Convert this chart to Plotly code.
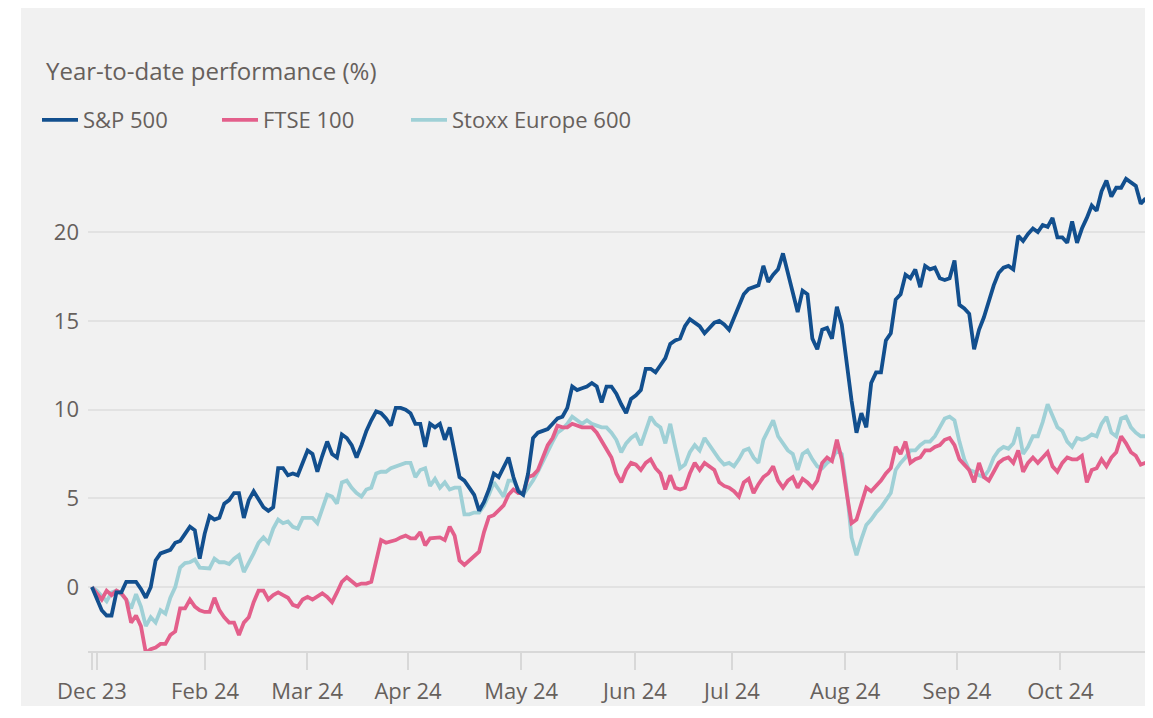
import plotly.graph_objects as go

# trading-day index (0 = end of Dec 2023)
sp500 = [0, -0.7, -1.3, -1.6, -1.6, -0.3, -0.3, 0.3, 0.3, 0.3,
         -0.1, -0.6, 0.0, 1.5, 1.9, 2.0, 2.1, 2.5, 2.6, 3.0,
         3.4, 3.2, 1.6, 3.0, 4.0, 3.8, 3.9, 4.7, 4.9, 5.3,
         5.3, 3.9, 4.9, 5.4, 4.9, 4.5, 4.3, 4.5, 6.7, 6.7,
         6.3, 6.4, 6.3, 7.0, 7.7, 7.5, 6.5, 7.4, 8.2, 7.5,
         7.3, 8.6, 8.4, 8.0, 7.3, 8.0, 8.8, 9.4, 9.9, 9.8,
         9.5, 9.1, 10.1, 10.1, 10.0, 9.8, 9.2, 9.2, 7.9, 9.2,
         9.0, 9.2, 8.3, 9.0, 7.7, 6.2, 6.0, 5.6, 5.2, 4.3,
         4.8, 5.5, 6.4, 6.2, 6.8, 7.3, 6.2, 5.4, 5.2, 6.4,
         8.4, 8.7, 8.8, 8.9, 9.2, 9.5, 9.6, 10.1, 11.3, 11.1,
         11.2, 11.3, 11.5, 11.3, 10.4, 11.3, 11.3, 10.9, 10.3, 9.8,
         10.6, 10.8, 11.1, 12.3, 12.3, 12.1, 12.5, 12.9, 13.7, 13.9,
         14.0, 14.7, 15.1, 14.9, 14.7, 14.3, 14.6, 14.9, 15.0, 14.8,
         14.5, 15.2, 15.8, 16.5, 16.8, 16.9, 17.0, 18.1, 17.2, 17.6,
         17.9, 18.8, 17.7, 16.7, 15.5, 16.7, 16.5, 14.0, 13.4, 14.5,
         14.6, 14.0, 15.8, 14.8, 12.6, 10.5, 8.7, 9.8, 9.0, 11.5,
         12.1, 12.1, 13.9, 14.3, 16.2, 16.5, 17.6, 17.4, 17.9, 16.9,
         18.1, 17.9, 18.0, 17.4, 17.3, 17.4, 18.4, 15.9, 15.7, 15.4,
         13.4, 14.5, 15.2, 16.1, 17.0, 17.7, 18.0, 18.1, 17.9, 19.8,
         19.5, 19.9, 20.2, 20.0, 20.4, 20.3, 20.8, 19.7, 19.7, 19.4,
         20.6, 19.4, 20.2, 20.8, 21.5, 21.2, 22.3, 22.9, 22.0, 22.5,
         22.5, 23.0, 22.8, 22.6, 21.6, 21.9]

ftse100 = [0, -0.35, -0.7, -0.2, -0.45, -0.2, -0.35, -0.7, -2.0, -1.6,
           -2.2, -3.7, -3.5, -3.4, -3.2, -3.2, -2.7, -2.5, -1.2, -1.2,
           -0.7, -1.1, -1.3, -1.4, -1.4, -0.6, -1.3, -1.7, -2.0, -2.0,
           -2.7, -2.0, -1.7, -0.85, -0.2, -0.2, -0.7, -0.45, -0.3, -0.45,
           -0.6, -1.0, -1.1, -0.7, -0.55, -0.7, -0.55, -0.35, -0.55, -0.85,
           -0.3, 0.3, 0.55, 0.3, 0.1, 0.2, 0.2, 0.3, 1.4, 2.65,
           2.5, 2.55, 2.65, 2.8, 2.9, 2.75, 2.75, 3.1, 2.35, 2.75,
           2.75, 2.8, 2.65, 3.4, 2.9, 1.5, 1.25, 1.5, 1.8, 2.0,
           3.1, 3.95, 4.05, 4.3, 4.6, 5.2, 5.5, 5.3, 5.3, 6.2,
           6.3, 6.6, 7.3, 8.0, 8.4, 9.1, 9.0, 9.0, 9.2, 9.1,
           9.0, 9.0, 9.0, 8.7, 8.2, 7.8, 7.3, 6.4, 5.9, 6.6,
           7.0, 6.9, 6.6, 7.0, 7.2, 6.7, 6.4, 5.5, 6.3, 5.6,
           5.5, 5.6, 6.4, 7.0, 6.6, 7.0, 6.8, 6.6, 5.9, 5.7,
           5.6, 5.4, 5.1, 5.9, 6.1, 5.3, 5.8, 6.2, 6.4, 6.8,
           6.0, 5.6, 6.0, 6.2, 5.6, 6.1, 5.9, 5.6, 6.0, 7.0,
           7.3, 7.1, 8.3, 7.2, 5.3, 3.6, 3.8, 4.8, 5.6, 5.4,
           5.7, 6.0, 6.4, 6.7, 7.9, 7.5, 8.2, 7.0, 7.2, 7.3,
           7.7, 7.7, 7.9, 8.0, 8.3, 8.4, 8.0, 7.2, 6.9, 6.6,
           5.9, 7.0, 6.2, 6.0, 6.5, 7.0, 7.2, 7.3, 7.0, 7.7,
           6.5, 7.0, 7.3, 7.0, 7.3, 7.6, 6.8, 6.5, 7.0, 7.3,
           7.2, 7.2, 7.4, 5.9, 6.6, 6.7, 7.2, 6.8, 7.3, 7.6,
           8.5, 8.1, 7.6, 7.4, 6.9, 7.0]

stoxx600 = [0, -0.2, -0.5, -0.8, -0.3, -0.2, -0.4, -0.7, -1.2, -0.4,
            -1.1, -2.2, -1.7, -2.0, -1.3, -1.5, -0.6, 0.0, 1.1, 1.35,
            1.4, 1.55, 1.1, 1.05, 1.05, 1.6, 1.4, 1.4, 1.3, 1.6,
            1.8, 0.85, 1.35, 1.9, 2.5, 2.8, 2.5, 3.3, 3.8, 3.6,
            3.7, 3.4, 3.3, 3.9, 3.9, 3.9, 3.6, 4.4, 5.2, 5.1,
            4.7, 5.9, 6.0, 5.6, 5.3, 5.1, 5.5, 5.6, 6.4, 6.5,
            6.5, 6.7, 6.8, 6.9, 7.0, 7.0, 6.2, 6.6, 6.7, 5.7,
            6.1, 5.6, 5.9, 5.5, 5.6, 5.6, 4.1, 4.1, 4.2, 4.2,
            4.6, 5.2, 5.9, 5.5, 5.1, 6.0, 6.0, 5.5, 5.2, 5.6,
            6.0, 6.5, 7.1, 7.6, 8.2, 8.7, 8.9, 9.2, 9.6, 9.4,
            9.2, 9.4, 9.2, 9.1, 9.0, 9.0, 8.7, 8.3, 7.6, 8.1,
            8.4, 8.6, 8.0, 8.8, 9.6, 9.2, 9.0, 8.1, 9.2, 7.9,
            6.7, 6.9, 7.6, 8.0, 7.7, 8.4, 8.0, 7.6, 7.2, 6.9,
            7.0, 6.8, 7.2, 7.7, 7.8, 7.3, 7.0, 8.3, 8.8, 9.4,
            8.5, 8.1, 7.7, 7.5, 6.6, 7.5, 7.7, 7.2, 6.8, 6.7,
            7.0, 7.2, 7.7, 7.5, 5.5, 2.8, 1.8, 2.7, 3.5, 3.8,
            4.2, 4.5, 4.9, 5.3, 6.6, 7.0, 7.3, 7.7, 7.7, 8.0,
            8.2, 8.2, 8.5, 9.0, 9.5, 9.6, 9.4, 8.2, 7.2, 6.6,
            6.5, 6.3, 6.2, 6.6, 7.3, 7.7, 7.9, 7.8, 8.1, 9.0,
            7.5, 7.9, 8.5, 8.5, 9.3, 10.3, 9.6, 9.0, 8.8, 8.2,
            7.9, 8.4, 8.3, 8.4, 8.6, 8.5, 9.2, 9.6, 8.7, 8.5,
            9.5, 9.6, 9.0, 8.7, 8.5, 8.5]

tick_labels = ["Dec 23", "", "Feb 24", "Mar 24", "Apr 24", "May 24",
               "Jun 24", "Jul 24", "Aug 24", "Sep 24", "Oct 24"]
tick_index = [0, 1, 23.1, 43.9, 64.5, 87.6, 110.8, 130.6, 153.7, 176.5, 197.6]

days = list(range(len(sp500)))

FONT = "'Open Sans', 'Noto Sans', sans-serif"
BG = "#f1f1f1"
TXT = "#66605c"

# page has an 8px body margin: figure origin sits at page (8, 8)
OFF = 8
W, H = 1145, 702
L, R, T, B = 80, 0, 162, 59
pw = W - L - R
ph = H - T - B

def px_x(page_x):
    return (page_x - OFF - L) / pw

def px_y(page_y):
    return (H - B - (page_y - OFF)) / ph

fig = go.Figure()
fig.add_trace(go.Scatter(x=days, y=stoxx600, mode="lines", name="Stoxx Europe 600",
                         legend="legend3", line=dict(color="#9fd0d6", width=3.8)))
fig.add_trace(go.Scatter(x=days, y=ftse100, mode="lines", name="FTSE 100",
                         legend="legend2", line=dict(color="#e35f8b", width=3.8)))
fig.add_trace(go.Scatter(x=days, y=sp500, mode="lines", name="S&P 500",
                         legend="legend", line=dict(color="#124f8e", width=3.8)))

def legend_at(page_x):
    return dict(orientation="h", x=px_x(page_x), xanchor="left",
                y=px_y(120), yanchor="middle",
                font=dict(size=22, color=TXT, family=FONT),
                bgcolor="rgba(0,0,0,0)", itemwidth=36)

fig.update_layout(
    width=W, height=H,
    margin=dict(l=L, r=R, t=T, b=B, pad=0),
    paper_bgcolor="white",
    plot_bgcolor=BG,
    font=dict(family=FONT, color=TXT, size=21),
    showlegend=True,
    legend=legend_at(37),
    legend2=legend_at(217),
    legend3=legend_at(406),
    shapes=[dict(type="rect", xref="paper", yref="paper", layer="below",
                 x0=px_x(21), x1=px_x(1170),
                 y0=px_y(706), y1=px_y(8),
                 fillcolor=BG, line=dict(width=0))],
    annotations=[dict(text="Year-to-date performance (%)", xref="paper", yref="paper",
                      x=px_x(44), y=px_y(71), xanchor="left",
                      yanchor="middle", showarrow=False,
                      font=dict(size=24, color=TXT, family=FONT))],
)

fig.update_xaxes(range=[-0.8, 216.5], showgrid=False, zeroline=False,
                 showline=True, linecolor="#d8d8d8", linewidth=1.5,
                 ticks="outside", ticklen=17, tickwidth=1.5, tickcolor="#d8d8d8",
                 tickvals=tick_index, ticktext=tick_labels, ticklabelstandoff=3,
                 tickfont=dict(size=22, color=TXT, family=FONT))
fig.update_yaxes(range=[-3.6, 23.5], showgrid=True, gridcolor="#e2e2e2", gridwidth=1.5,
                 zeroline=False, showline=False, ticks="",
                 tickvals=[0, 5, 10, 15, 20], ticklabelstandoff=8,
                 tickfont=dict(size=22, color=TXT, family=FONT))

fig.write_html("out.html")
